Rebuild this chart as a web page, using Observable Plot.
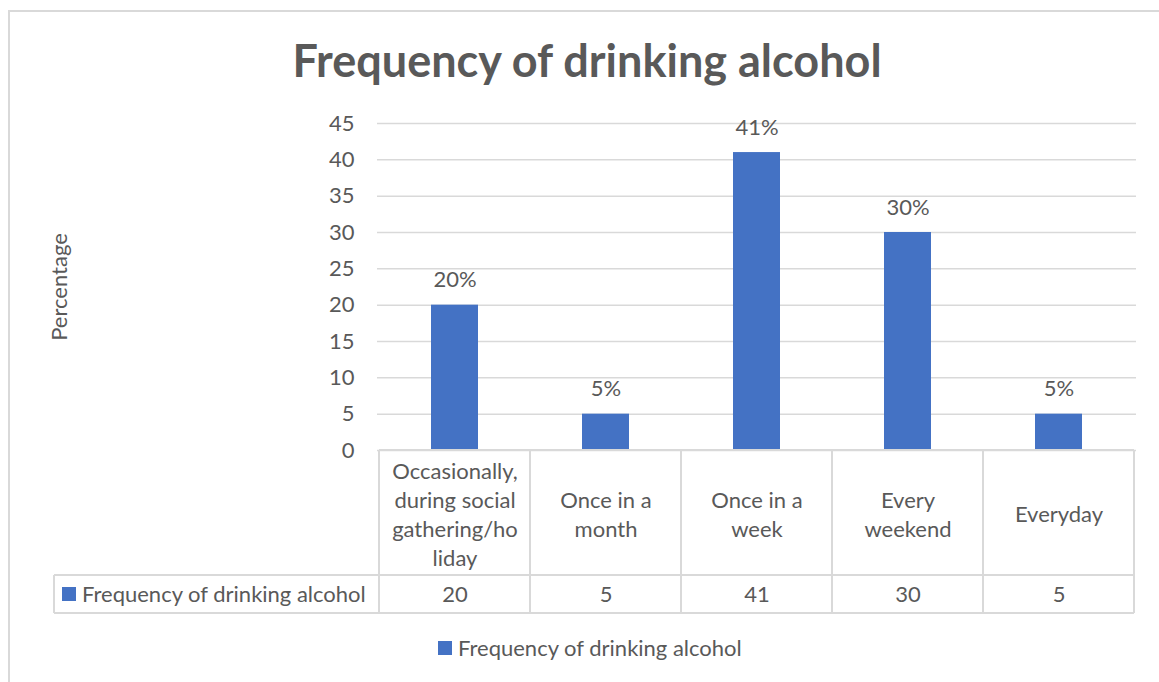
<!DOCTYPE html>
<html><head><meta charset="utf-8">
<script src="https://cdn.jsdelivr.net/npm/d3@7"></script>
<script src="https://cdn.jsdelivr.net/npm/@observablehq/plot@0.6"></script>
<style>
body{margin:0;background:#fff;}
#wrap{position:relative;width:1159px;height:682px;overflow:hidden;background:#fff;}
</style>
</head><body><div id="wrap"></div>
<script>
const title = "Frequency of drinking alcohol";
const seriesName = "Frequency of drinking alcohol";
const yLabel = "Percentage";
const categories = ["Occasionally, during social gathering/holiday", "Once in a month", "Once in a week", "Every weekend", "Everyday"];
const categoryLines = [["Occasionally,", "during social", "gathering/ho", "liday"], ["Once in a", "month"], ["Once in a", "week"], ["Every", "weekend"], ["Everyday"]];
const values = [20, 5, 41, 30, 5];
const dataLabels = ["20%", "5%", "41%", "30%", "5%"];
const yTicks = [0, 5, 10, 15, 20, 25, 30, 35, 40, 45];

const FONT = "Lato, 'Open Sans', sans-serif";
const TEXT = "#595959";
const GRID = "#d9d9d9";
const BLUE = "#4472C4";
const FS = 22;

const data = categories.map((c, i) => ({cat: c, value: values[i], label: dataLabels[i], lines: categoryLines[i].join("\n")}));

const plot = Plot.plot({
  width: 1159, height: 682,
  marginLeft: 377, marginRight: 23, marginTop: 123, marginBottom: 232,
  style: {fontFamily: FONT, fontSize: FS + "px", color: TEXT, background: "transparent", overflow: "visible"},
  x: {domain: categories, paddingInner: 0.69, paddingOuter: 0.345, axis: null},
  y: {domain: [0, 45], ticks: yTicks, axis: null},
  marks: [
    Plot.gridY(yTicks, {stroke: GRID, strokeOpacity: 1, strokeWidth: 1.5}),
    Plot.axisY(yTicks, {tickSize: 0, tickPadding: 23, fill: TEXT, fontSize: FS, label: null}),
    Plot.barY(data, {x: "cat", y: "value", fill: BLUE}),
    Plot.text(data, {x: "cat", y: "value", text: "label", dy: -25, lineAnchor: "middle", fill: TEXT, fontSize: FS}),
    Plot.text(data, {x: "cat", text: "lines", frameAnchor: "bottom", lineAnchor: "middle", dy: 62.5, lineHeight: 1.32, fill: TEXT, fontSize: FS}),
    Plot.text(data, {x: "cat", text: d => String(d.value), frameAnchor: "bottom", lineAnchor: "middle", dy: 144, fill: TEXT, fontSize: FS})
  ]
});
document.getElementById("wrap").appendChild(plot);

const svg = d3.select(plot);
const xs = plot.scale("x");
const ys = plot.scale("y");
const step = xs.step, bw = xs.bandwidth;
const left = xs.apply(categories[0]) - (step - bw) / 2;
const right = xs.apply(categories[categories.length - 1]) + bw + (step - bw) / 2;
const y0 = ys.apply(0);
const rowTop = y0 + 125, rowBot = y0 + 163;
const tableLeft = 54;

const g = svg.append("g").attr("stroke", GRID).attr("stroke-width", 2).attr("fill", "none");
// outer chart frame
g.append("path").attr("d", `M9,${700} V11 H1200`);
// table lines
g.append("line").attr("x1", left).attr("x2", right).attr("y1", y0).attr("y2", y0);
g.append("line").attr("x1", tableLeft).attr("x2", right).attr("y1", rowTop).attr("y2", rowTop);
g.append("line").attr("x1", tableLeft).attr("x2", right).attr("y1", rowBot).attr("y2", rowBot);
g.append("line").attr("x1", tableLeft).attr("x2", tableLeft).attr("y1", rowTop).attr("y2", rowBot);
categories.forEach((c, i) => {
  const xl = xs.apply(c) - (step - bw) / 2;
  g.append("line").attr("x1", xl).attr("x2", xl).attr("y1", y0).attr("y2", rowBot);
});
g.append("line").attr("x1", right).attr("x2", right).attr("y1", y0).attr("y2", rowBot);

const t = svg.append("g").attr("font-family", FONT).attr("fill", TEXT).attr("text-anchor", "start");
// title
t.append("text").attr("x", 587).attr("y", 77).attr("text-anchor", "middle")
  .attr("font-size", 45).attr("font-weight", "bold").text(title);
// y label
t.append("text").attr("transform", "translate(67,287) rotate(-90)").attr("text-anchor", "middle")
  .attr("font-size", FS).text(yLabel);
// table legend key
t.append("rect").attr("x", 62).attr("y", (rowTop + rowBot) / 2 - 7).attr("width", 14).attr("height", 14).attr("fill", BLUE);
t.append("text").attr("x", 82).attr("y", (rowTop + rowBot) / 2).attr("dy", "0.35em").attr("font-size", FS).text(seriesName);
// bottom legend
t.append("rect").attr("x", 438).attr("y", 641).attr("width", 14).attr("height", 14).attr("fill", BLUE);
t.append("text").attr("x", 458).attr("y", 648).attr("dy", "0.35em").attr("font-size", FS).text(seriesName);
</script>
</body></html>
